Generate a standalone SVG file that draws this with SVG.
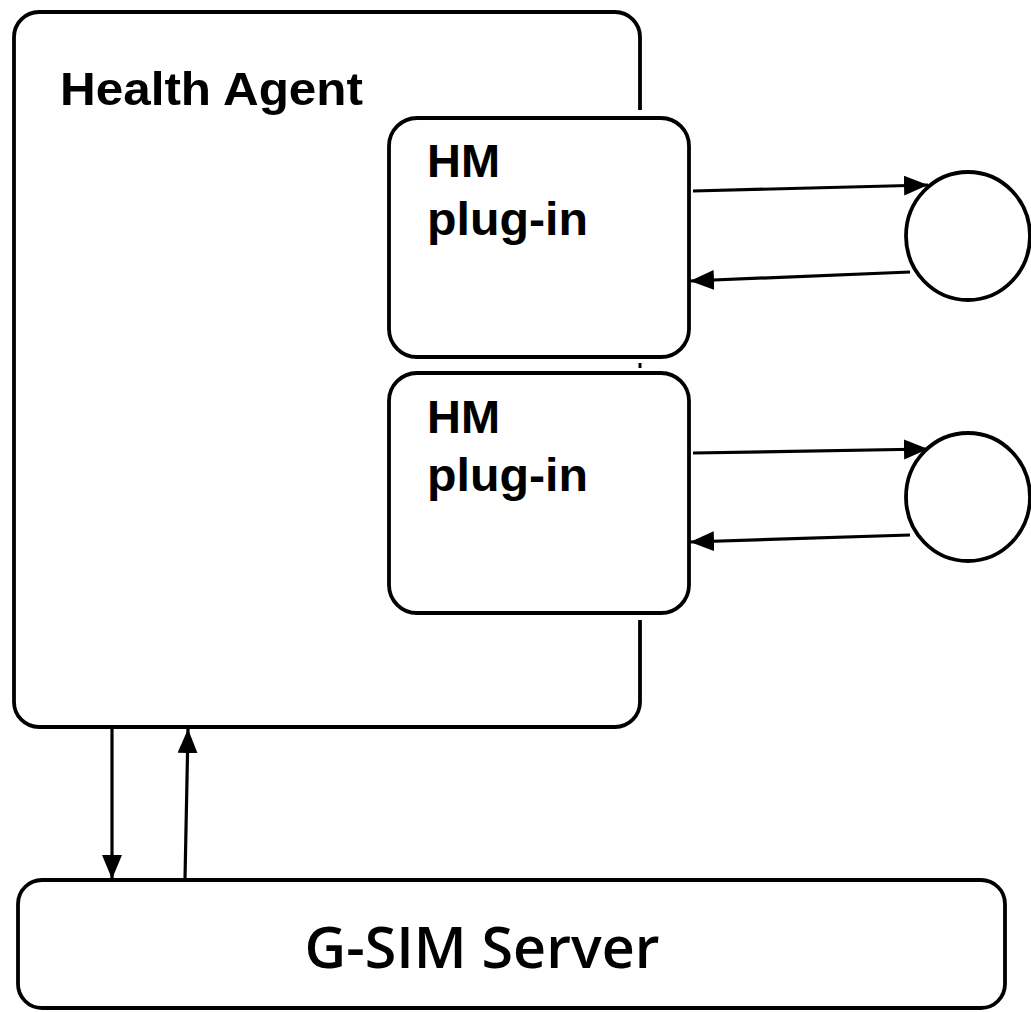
<svg xmlns="http://www.w3.org/2000/svg" width="1031" height="1012" viewBox="0 0 1031 1012">
<style>
.box{fill:#fff;stroke:#000;stroke-width:3.8}
.edge{fill:none;stroke:#000;stroke-width:3.8}
.conn{fill:none;stroke:#000;stroke-width:3.2}
.lbl{font-family:"Liberation Sans",Arial,sans-serif;font-weight:bold;font-size:47px;fill:#000}
.srv{font-family:"Open Sans","Liberation Sans",sans-serif;font-weight:600;font-size:57px;fill:#000}
</style>
<defs>
<marker id="ah" markerUnits="userSpaceOnUse" markerWidth="26" markerHeight="22" refX="24" refY="10" orient="auto">
<path d="M0,0 L24,10 L0,20 z" fill="#000"/>
</marker>
</defs>
<rect width="1031" height="1012" fill="#fff"/>
<g id="health-agent">
<path class="edge" d="M640,110 L640,37 A25,25 0 0 0 615,12 L39,12 A25,25 0 0 0 14,37 L14,702 A25,25 0 0 0 39,727 L615,727 A25,25 0 0 0 640,702 L640,620"/>
<line x1="640" y1="363" x2="640" y2="368" stroke="#000" stroke-width="3"/>
<text class="lbl" x="60" y="105" textLength="303" lengthAdjust="spacingAndGlyphs">Health Agent</text>
</g>
<g id="plugin-1">
<rect class="box" x="389" y="118" width="300" height="239" rx="28"/>
<text class="lbl" x="427" y="177" textLength="73" lengthAdjust="spacingAndGlyphs">HM</text>
<text class="lbl" x="427" y="235" textLength="161" lengthAdjust="spacingAndGlyphs">plug-in</text>
</g>
<g id="plugin-2">
<rect class="box" x="389" y="373" width="300" height="240" rx="28"/>
<text class="lbl" x="427" y="433" textLength="73" lengthAdjust="spacingAndGlyphs">HM</text>
<text class="lbl" x="427" y="491" textLength="161" lengthAdjust="spacingAndGlyphs">plug-in</text>
</g>
<g id="device-1">
<ellipse class="box" cx="968" cy="236" rx="62" ry="64"/>
</g>
<g id="device-2">
<ellipse class="box" cx="968" cy="497" rx="62" ry="64"/>
</g>
<g id="gsim-server">
<rect class="box" x="18" y="880" width="987" height="128" rx="24"/>
<text class="srv" x="482" y="968" text-anchor="middle" textLength="355" lengthAdjust="spacingAndGlyphs">G-SIM Server</text>
</g>
<g id="connectors">
<line class="conn" x1="693" y1="191" x2="928" y2="185" marker-end="url(#ah)"/>
<line class="conn" x1="910" y1="272" x2="690" y2="281" marker-end="url(#ah)"/>
<line class="conn" x1="693" y1="453" x2="928" y2="449" marker-end="url(#ah)"/>
<line class="conn" x1="910" y1="535" x2="690" y2="542" marker-end="url(#ah)"/>
<line class="conn" x1="112" y1="729" x2="112" y2="879" marker-end="url(#ah)"/>
<line class="conn" x1="185" y1="879" x2="188" y2="729" marker-end="url(#ah)"/>
</g>
</svg>
